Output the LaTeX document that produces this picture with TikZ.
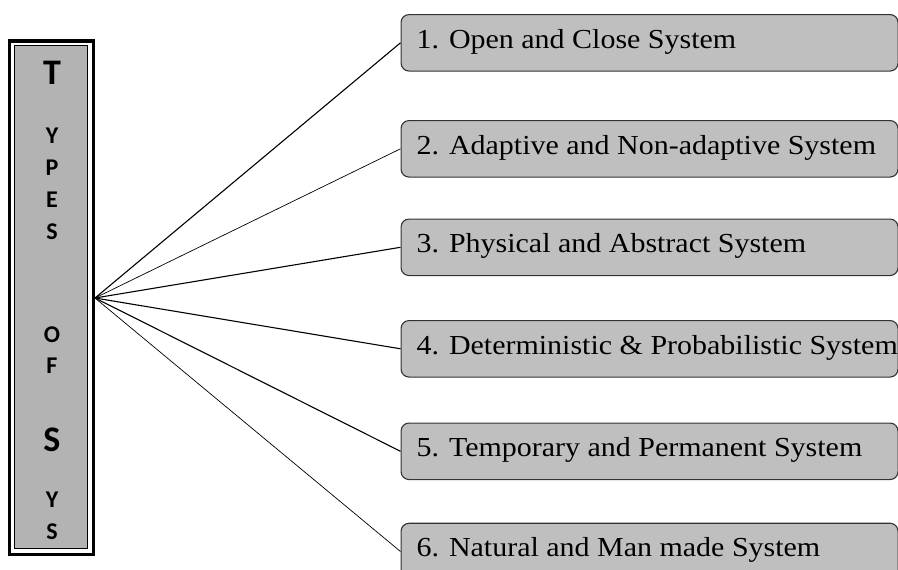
\documentclass[tikz,border=0pt]{standalone}
\usepackage{fontspec}
\setmainfont{Liberation Serif}
\newfontfamily\boxfont[FakeStretch=1.09]{Liberation Serif}
\newfontfamily\spinefont{Carlito}
\definecolor{spinegray}{HTML}{B3B3B3}
\definecolor{boxgray}{HTML}{BFBFBF}
\definecolor{boxline}{HTML}{333333}
\begin{document}
\begin{tikzpicture}[x=1pt,y=-1pt,
  typebox/.style={draw=boxline, fill=boxgray, line width=1.1pt, rounded corners=8pt,
    anchor=north west, minimum height=56.5pt, inner xsep=15.5pt, inner ysep=0pt,
    text height=18pt, text depth=7.5pt, font=\boxfont\fontsize{27.5}{30}\selectfont},
  letter/.style={font=\spinefont\bfseries\fontsize{24}{26}\selectfont, inner sep=0pt},
  bigletter/.style={font=\spinefont\bfseries\fontsize{36}{38}\selectfont, inner sep=0pt},
  fan/.style={black, line width=1.1pt},
  thinfan/.style={black, line width=0.7pt}]
\useasboundingbox (0,0) rectangle (898,570);

% vertical title column: thick outer frame, white gap, thin inner frame
\draw[line width=3.4pt, fill=white] (9.7,41) rectangle (93.3,554.3);
\draw[line width=0.9pt, fill=spinegray] (14.5,45.5) rectangle (87.3,548.7);

\node[bigletter] (t1) at (52,73) {T};
\node[letter] (t2) at (52,135.5) {Y};
\node[letter] (t3) at (52,167.5) {P};
\node[letter] (t4) at (52,199.5) {E};
\node[letter] (t5) at (52,231.5) {S};
\node[letter] (t6) at (52,334.5) {O};
\node[letter] (t7) at (52,366) {F};
\node[bigletter] (t8) at (52,440) {S};
\node[letter] (t9) at (52,499.5) {Y};
\node[letter] (t10) at (52,531.5) {S};

\coordinate (hub) at (95,298);

% the six system types
\node[typebox] (b1) at (400.5,14) {\makebox[466pt][l]{1. Open and Close System}};
\node[typebox] (b2) at (400.5,120) {\makebox[466pt][l]{2. Adaptive and Non-adaptive System}};
\node[typebox] (b3) at (400.5,218.5) {\makebox[466pt][l]{3. Physical and Abstract System}};
\node[typebox] (b4) at (400.5,320) {\makebox[466pt][l]{4. Deterministic \& Probabilistic System}};
\node[typebox] (b5) at (400.5,422.5) {\makebox[466pt][l]{5. Temporary and Permanent System}};
\node[typebox] (b6) at (400.5,522.7) {\makebox[466pt][l]{6. Natural and Man made System}};

\draw[fan] (hub) -- (b1.west);
\draw[thinfan] (hub) -- (b2.west);
\draw[fan] (hub) -- (b3.west);
\draw[fan] (hub) -- (b4.west);
\draw[fan] (hub) -- (b5.west);
\draw[thinfan] (hub) -- (b6.west);
\end{tikzpicture}
\end{document}
